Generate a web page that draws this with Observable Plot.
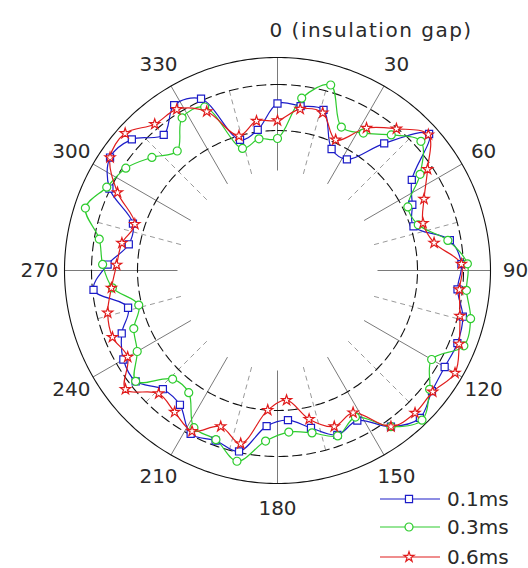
<!DOCTYPE html>
<html><head><meta charset="utf-8">
<script src="https://cdn.jsdelivr.net/npm/d3@7"></script>
<script src="https://cdn.jsdelivr.net/npm/@observablehq/plot@0.6"></script>
<style>
body{margin:0;background:#fff;}
#wrap{position:relative;width:528px;height:568px;overflow:hidden;}
#legend{position:absolute;left:0;top:0;}
</style>
</head><body><div id="wrap"></div>
<script>
// angle of each measurement (degrees, clockwise from the insulation gap)
const angles = d3.range(0, 360, 8);
// radial values (relative units; outer circle = 213)
const r01 = [167,166,167,133,131,166,204,162,150,143,175,184,181,191,194,193,196,205,193,170,175,161,150,156,185,181,185,166,165,180,178,168,154,185,170,151,152,187,202,196,177,195,188,136,142];
const r03 = [132,174,193,157,162,177,193,172,145,148,173,190,190,199,201,178,193,208,193,166,176,166,162,171,195,180,178,151,151,180,162,155,143,166,175,181,202,190,183,169,156,180,179,127,133];
const r06 = [150,163,164,143,168,185,203,181,163,153,159,184,183,188,196,205,197,198,193,161,166,152,130,140,177,166,182,175,171,193,173,178,175,167,161,158,150,178,202,205,191,190,174,140,151];
const seriesNames = ["0.1ms","0.3ms","0.6ms"];
const seriesColors = ["#1c1cc8","#2ecc2e","#e01c1c"];
const seriesSymbols = ["square","circle","star"];
const symbolSizes = [4, 4, 3.2];
const angleTicks = [0,30,60,90,120,150,180,210,240,270,300,330];
const angleTickLabels = ["0 (insulation gap)","30","60","90","120","150","180","210","240","270","300","330"];
const minorAngles = [15,45,75,105,135,165,195,225,255,285,315,345];
const gridRadii = [140,186];
const outerR = 213, innerR = 100, minorOuterR = 186, labelR = 238;

const cx = 277, cy = 270;
const rad = a => a * Math.PI / 180;
const px = (a, r) => r * Math.sin(rad(a));
const py = (a, r) => r * Math.cos(rad(a));

const allSeries = [r01, r03, r06];
const rows = [];
allSeries.forEach((vals, si) => vals.forEach((r, i) => rows.push({angle: angles[i], r, series: seriesNames[si], size: symbolSizes[si]})));

const circleAngles = d3.range(0, 361, 1);
const gridPts = [];
gridRadii.forEach(R => circleAngles.forEach(a => gridPts.push({R, a})));
const outerPts = circleAngles.map(a => ({R: outerR, a}));

const chart = Plot.plot({
  width: 528, height: 568,
  marginTop: 0, marginRight: 0, marginBottom: 0, marginLeft: 0,
  style: {fontFamily: "DejaVu Sans", background: "white"},
  x: {domain: [-outerR, outerR], range: [cx - outerR, cx + outerR], axis: null},
  y: {domain: [-outerR, outerR], range: [cy + outerR, cy - outerR], axis: null},
  r: {type: "identity"},
  color: {domain: seriesNames, range: seriesColors},
  symbol: {domain: seriesNames, range: seriesSymbols},
  marks: [
    Plot.link(angleTicks, {x1: a => px(a, innerR), y1: a => py(a, innerR), x2: a => px(a, outerR), y2: a => py(a, outerR), stroke: "#7a7a7a", strokeWidth: 1}),
    Plot.link(minorAngles, {x1: a => px(a, innerR), y1: a => py(a, innerR), x2: a => px(a, minorOuterR), y2: a => py(a, minorOuterR), stroke: "#9a9a9a", strokeWidth: 1, strokeDasharray: "5,4"}),
    Plot.line(gridPts, {x: d => px(d.a, d.R), y: d => py(d.a, d.R), z: "R", stroke: "#111", strokeWidth: 1.1, strokeDasharray: "9,5"}),
    Plot.line(outerPts, {x: d => px(d.a, d.R), y: d => py(d.a, d.R), stroke: "#111", strokeWidth: 1.1}),
    Plot.line(rows, {x: d => px(d.angle, d.r), y: d => py(d.angle, d.r), z: "series", stroke: "series", strokeWidth: 1.2, curve: "catmull-rom-closed"}),
    Plot.dot(rows, {x: d => px(d.angle, d.r), y: d => py(d.angle, d.r), symbol: "series", stroke: "series", fill: "white", r: "size", strokeWidth: 1.2}),
    Plot.text(angleTicks.slice(1), {x: a => px(a, labelR), y: a => py(a, labelR), text: (a, i) => angleTickLabels[i + 1], fontSize: 20, fill: "#2a2a2a", textAnchor: "middle"}),
    Plot.text([angleTicks[0]], {x: a => px(a, 240), y: a => py(a, 240), text: () => angleTickLabels[0], fontSize: 20, fill: "#2a2a2a", textAnchor: "start", dx: -8})
  ]
});
document.getElementById("wrap").appendChild(chart);
d3.select(chart).selectAll("text").filter(function(){ return this.textContent.includes("insulation"); }).attr("letter-spacing", "1.5px");

// legend
const lg = d3.select("#wrap").append("svg").attr("id", "legend").attr("width", 528).attr("height", 568);
const rowsY = [499, 527, 557];
seriesNames.forEach((name, i) => {
  const g = lg.append("g").attr("transform", `translate(0,${rowsY[i]})`);
  g.append("line").attr("x1", 380).attr("x2", 440).attr("y1", 0).attr("y2", 0).attr("stroke", seriesColors[i]).attr("stroke-width", 1.2);
  const sym = {square: d3.symbolSquare, circle: d3.symbolCircle, star: d3.symbolStar}[seriesSymbols[i]];
  g.append("path").attr("d", d3.symbol(sym, Math.PI * symbolSizes[i] * symbolSizes[i])()).attr("transform", "translate(409,0)").attr("fill", "white").attr("stroke", seriesColors[i]).attr("stroke-width", 1.2);
  g.append("text").attr("x", 447).attr("y", 0).attr("dy", "0.36em").attr("font-family", "DejaVu Sans").attr("font-size", 20).attr("fill", "#2a2a2a").text(name);
});
</script>
</body></html>
